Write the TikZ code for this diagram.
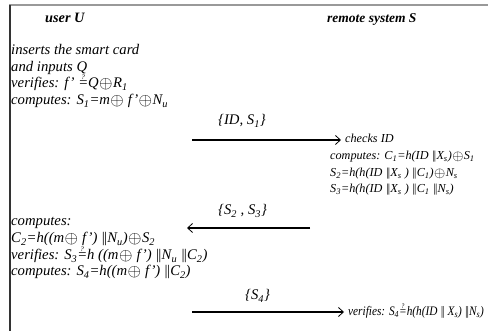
\documentclass[tikz,border=0pt]{standalone}
\usepackage{fontspec}
\setmainfont{Liberation Serif}
\newfontfamily\mycondfont{Liberation Serif}[FakeStretch=0.87]
\usetikzlibrary{arrows.meta}
\newcommand\myxor{{\kern0.4pt\raisebox{-0.4pt}{\scalebox{1.2}{$\oplus$}}\kern0.4pt}}
\newcommand\mysub[1]{\textsubscript{#1}}
\newcommand\mycat{|\kern-1.8pt|}
\newcommand\myqeq{\ooalign{\hfil\raisebox{0.55em}{\fontsize{7}{7}\selectfont ?}\hfil\cr=\cr}}
\begin{document}
\begin{tikzpicture}[x=1pt,y=-1pt,
  txt/.style={anchor=base west,inner sep=0pt,font=\fontsize{14.7}{16}\selectfont\itshape},
  rtxt/.style={anchor=base west,inner sep=0pt,font=\fontsize{12.2}{15}\selectfont\itshape},
  ctxt/.style={anchor=base west,inner sep=0pt,font=\mycondfont\fontsize{13}{15}\selectfont\itshape},
  head/.style={txt,font=\fontsize{14.3}{16}\selectfont\bfseries\itshape},
  rhead/.style={txt,font=\fontsize{13.5}{15}\selectfont\bfseries\itshape},
  msg/.style={line width=1.3pt,-{Straight Barb[length=5pt,width=9pt,line width=0.8pt]}},
  frame/.style={draw=gray!80,line width=1.6pt}]
\useasboundingbox (0,0) rectangle (488,331);
\draw[frame] (9,5) -- (488,5);
\draw[draw=gray!40!black,line width=1.2pt] (10,5) -- (10,331);
% headers
\node[head] (hu) at (45,23) {user U};
\node[rhead] (hs) at (327,23) {remote system S};
% user block 1
\node[txt] (u1) at (11,55) {inserts the smart card};
\node[txt] (u2) at (11,72) {and inputs Q};
\node[txt] (u3) at (11,88) {verifies: f’ \myqeq Q\myxor R\mysub{1}};
\node[txt] (u4) at (11,105) {computes: S\mysub{1}=m\myxor\ f’\myxor N\mysub{u}};
% message 1
\node[txt] (m1) at (218,125) {\{ID, S\mysub{1}\}};
\coordinate (a1s) at (192,140);
\coordinate (a1e) at (341,140);
\draw[msg] (a1s) -- (a1e);
\node[rtxt] (s1) at (345,143) {checks ID};
\node[rtxt] (s2) at (330,160) {computes: C\mysub{1}=h(ID \mycat X\mysub{s})\myxor S\mysub{1}};
\node[rtxt] (s3) at (330,177) {S\mysub{2}=h(h(ID \mycat X\mysub{s} ) \mycat C\mysub{1})\myxor N\mysub{s}};
\node[rtxt] (s4) at (330,193) {S\mysub{3}=h(h(ID \mycat X\mysub{s} ) \mycat C\mysub{1} \mycat N\mysub{s})};
% message 2
\node[txt] (m2) at (218,215) {\{S\mysub{2} , S\mysub{3}\}};
\coordinate (a2s) at (310,228);
\coordinate (a2e) at (187,228);
\draw[msg] (a2s) -- (a2e);
\node[txt] (u5) at (11,226) {computes:};
\node[txt] (u6) at (11,243) {C\mysub{2}=h((m\myxor\ f’) \mycat N\mysub{u})\myxor S\mysub{2}};
\node[txt] (u7) at (11,260) {verifies: S\mysub{3}\myqeq h ((m\myxor\ f’) \mycat N\mysub{u} \mycat C\mysub{2})};
\node[txt] (u8) at (11,276) {computes: S\mysub{4}=h((m\myxor\ f’) \mycat C\mysub{2})};
% message 3
\node[txt] (m3) at (245,300) {\{S\mysub{4}\}};
\coordinate (a3s) at (192,312);
\coordinate (a3e) at (344,312);
\draw[msg] (a3s) -- (a3e);
\node[ctxt] (s5) at (348,316) {verifies: S\mysub{4}\myqeq h(h(ID \mycat\ X\mysub{s}) \mycat N\mysub{s})};
\end{tikzpicture}
\end{document}
